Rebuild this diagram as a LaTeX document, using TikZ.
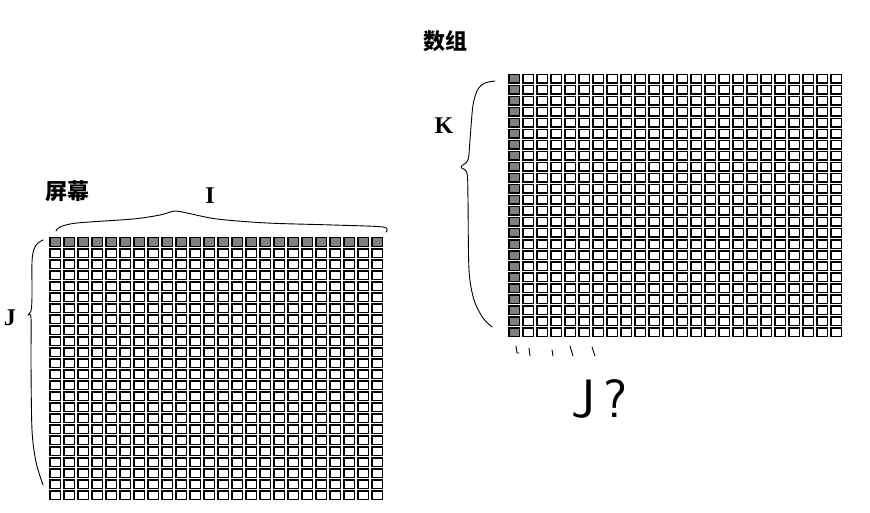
\documentclass[tikz,border=0pt]{standalone}
\usepackage{fontspec}
\setmainfont{Liberation Serif}
\newfontfamily\cjk{Noto Sans CJK SC}
\definecolor{cellgrey}{RGB}{128,128,128}
\tikzset{
  cell/.style={draw=black, line width=1.5pt, fill=white},
  hotcell/.style={cell, fill=cellgrey},
  sketch/.style={black, line width=0.9pt, line cap=round, line join=round},
  caption/.style={font=\cjk\bfseries\fontsize{22}{26}\selectfont},
  letter/.style={font=\bfseries\fontsize{24}{28}\selectfont}
}
\begin{document}
\begin{tikzpicture}[x=1pt,y=-1pt]
\useasboundingbox (0,0) rectangle (870,513);
\foreach \i in {0,...,23}{
  \foreach \j in {0,...,23}{
    \draw[cell] ({49.75+14*\i},{237.75+11*\j}) rectangle ++(10.5,8.5);
    \draw[cell] ({508.75+14*\i},{74.75+11*\j}) rectangle ++(10.5,8.5);
  }
  \draw[hotcell] ({49.75+14*\i},237.75) rectangle ++(10.5,8.5);
  \draw[hotcell] (508.75,{74.75+11*\i}) rectangle ++(10.5,8.5);
}
\node[caption] (screen) at (67,191) {屏幕};
\node[caption] (array) at (445,41) {数组};
\node[letter] (labI) at (210,196) {I};
\node[letter] (labJ) at (10,318) {J};
\node[letter] (labK) at (444,126) {K};
\draw[sketch] plot[smooth, tension=0.5] coordinates {(56,231) (60,227) (77,223) (133,219) (160,215) (175,211) (187,213) (217,219) (267,223) (333,225) (383,227) (386,232)};
\draw[sketch] plot[smooth, tension=0.5] coordinates {(43,240) (38,243) (34,249) (32,262) (32,297) (31,311) (28,315) (31,318) (31,363) (32,430) (36,462) (43,485)};
\draw[sketch] plot[smooth, tension=0.5] coordinates {(495,81) (485,83) (478,89) (473,105) (470,140) (468,160) (461,167) (467,173) (468,200) (469,270) (474,300) (483,318) (492,327)};
\draw[sketch] (516,346) -- (517,353) -- (519,353);
\draw[sketch] (529,348) -- (530,356);
\draw[sketch] (552,350) -- (553,356);
\draw[sketch] (570,346) -- (573,356);
\draw[sketch] (592,347) -- (595,356);
\node[font=\sffamily\fontsize{54}{60}\selectfont, anchor=base west, inner sep=0pt] (guess) at (571,417) {J\hspace{8pt}?};
\end{tikzpicture}
\end{document}
